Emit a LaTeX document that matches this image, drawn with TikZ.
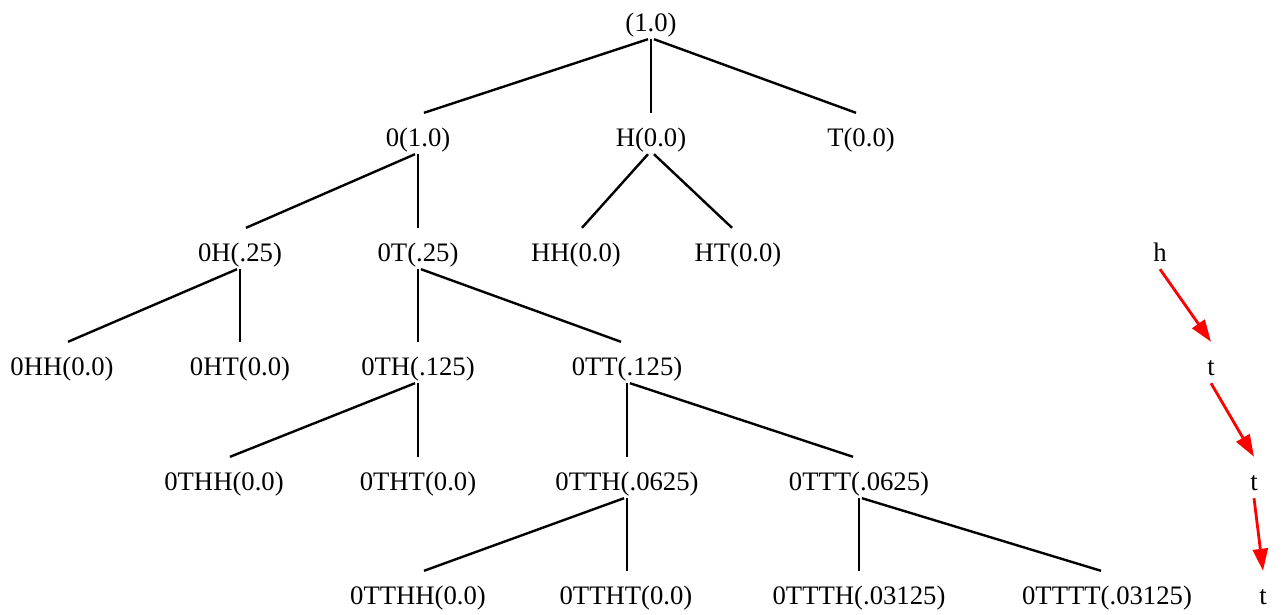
\documentclass[tikz,border=0pt]{standalone}
\usepackage{fontspec}
\setmainfont{Liberation Serif}
\usetikzlibrary{calc,arrows.meta}
\tikzset{
  lab/.style={font=\fontsize{26.7}{30}\selectfont, inner sep=0pt,
              text height=33pt, text depth=8pt, anchor=base},
  branch/.style={line width=2.4pt, black},
  path/.style={line width=2.8pt, red, -{Triangle[length=22pt,width=15pt]}}
}
\begin{document}
\begin{tikzpicture}[x=1pt,y=-1pt]
\useasboundingbox (0,0) rectangle (1283,614);
% tree nodes (placed on their baselines)
\node[lab] (r)     at (651,31)   {(1.0)};
\node[lab] (z)     at (418,146)  {0(1.0)};
\node[lab] (H)     at (651,146)  {H(0.0)};
\node[lab] (T)     at (861,146)  {T(0.0)};
\node[lab] (zH)    at (240,261)  {0H(.25)};
\node[lab] (zT)    at (418,261)  {0T(.25)};
\node[lab] (HH)    at (576,261)  {HH(0.0)};
\node[lab] (HT)    at (738,261)  {HT(0.0)};
\node[lab] (zHH)   at (62,375)   {0HH(0.0)};
\node[lab] (zHT)   at (240,375)  {0HT(0.0)};
\node[lab] (zTH)   at (418,375)  {0TH(.125)};
\node[lab] (zTT)   at (627,375)  {0TT(.125)};
\node[lab] (zTHH)  at (224,490)  {0THH(0.0)};
\node[lab] (zTHT)  at (418,490)  {0THT(0.0)};
\node[lab] (zTTH)  at (627,490)  {0TTH(.0625)};
\node[lab] (zTTT)  at (859,490)  {0TTT(.0625)};
\node[lab] (zTTHH) at (418,604)  {0TTHH(0.0)};
\node[lab] (zTTHT) at (626,604)  {0TTHT(0.0)};
\node[lab] (zTTTH) at (859,604)  {0TTTH(.03125)};
\node[lab] (zTTTT) at (1107,604) {0TTTT(.03125)};
% the sequence on the right
\node[lab] (s1) at (1160,261) {h};
\node[lab] (s2) at (1211,375) {t};
\node[lab] (s3) at (1254,490) {t};
\node[lab] (s4) at (1263,604) {t};
% branches: left child, straight child, right child
\draw[branch] ($(r.south)+(-3,0)$) -- ($(z.north)+(6,0)$);
\draw[branch] (r.south) -- (r.south |- H.north);
\draw[branch] ($(r.south)+(3,0)$) -- ($(T.north)+(-5,0)$);
\draw[branch] ($(z.south)+(-3,0)$) -- ($(zH.north)+(6,0)$);
\draw[branch] (z.south) -- (z.south |- zT.north);
\draw[branch] ($(H.south)+(-3,0)$) -- ($(HH.north)+(6,0)$);
\draw[branch] ($(H.south)+(3,0)$) -- ($(HT.north)+(-6,0)$);
\draw[branch] ($(zH.south)+(-3,0)$) -- ($(zHH.north)+(6,0)$);
\draw[branch] (zH.south) -- (zH.south |- zHT.north);
\draw[branch] (zT.south) -- (zT.south |- zTH.north);
\draw[branch] ($(zT.south)+(3,0)$) -- ($(zTT.north)+(-6,0)$);
\draw[branch] ($(zTH.south)+(-3,0)$) -- ($(zTHH.north)+(6,0)$);
\draw[branch] (zTH.south) -- (zTH.south |- zTHT.north);
\draw[branch] (zTT.south) -- (zTT.south |- zTTH.north);
\draw[branch] ($(zTT.south)+(3,0)$) -- ($(zTTT.north)+(-6,0)$);
\draw[branch] ($(zTTH.south)+(-3,0)$) -- ($(zTTHH.north)+(6,0)$);
\draw[branch] (zTTH.south) -- (zTTH.south |- zTTHT.north);
\draw[branch] (zTTT.south) -- (zTTT.south |- zTTTH.north);
\draw[branch] ($(zTTT.south)+(3,0)$) -- ($(zTTTT.north)+(-6,0)$);
% red arrows
\draw[path] (s1.south) -- (s2.north);
\draw[path] (s2.south) -- (s3.north);
\draw[path] (s3.south) -- (s4.north);
\end{tikzpicture}
\end{document}
